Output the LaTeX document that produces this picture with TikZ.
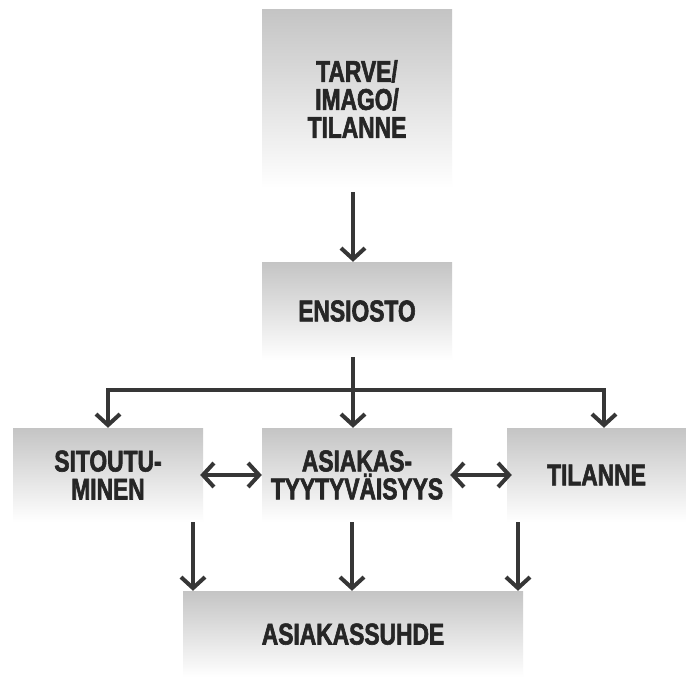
\documentclass[tikz,border=0pt]{standalone}
\usepackage{fontspec}
\newfontfamily\condfont{Liberation Sans Bold}[FakeStretch=0.76, FakeBold=2]
\usetikzlibrary{arrows.meta}
\definecolor{ink}{HTML}{363636}
\definecolor{txt}{HTML}{262626}
\begin{document}
\begin{tikzpicture}[x=1pt,y=-1pt,
  box/.style={rectangle, inner sep=0pt, top color=black!23, bottom color=white,
    draw=none, text=txt, align=center,
    font=\condfont\fontsize{30}{28}\selectfont},
  conn/.style={draw=ink, line width=4pt},
  arr/.style={conn, -{Straight Barb[length=11pt,width=24pt]}},
  darr/.style={conn, {Straight Barb[length=11pt,width=24pt]}-{Straight Barb[length=11pt,width=24pt]}}]
\useasboundingbox (0,0) rectangle (686,677);
\fill[white] (0,0) rectangle (686,677);
% boxes
\node[box, minimum width=190pt, minimum height=178pt] (top) at (357,99) {TARVE/\\IMAGO/\\TILANNE};
\node[box, minimum width=190pt, minimum height=98pt] (ens) at (357,311) {ENSIOSTO};
\node[box, minimum width=190pt, minimum height=94pt] (sit) at (108,475) {SITOUTU-\\MINEN};
\node[box, minimum width=190pt, minimum height=94pt] (asi) at (357,475) {ASIAKAS-\\TYYTYVÄISYYS};
\node[box, minimum width=179pt, minimum height=94pt] (til) at (596.5,475) {TILANNE};
\node[box, minimum width=340pt, minimum height=86pt, text depth=0pt] (suh) at (353,634) {ASIAKASSUHDE};
\coordinate (split) at (353,390);
% connectors
\draw[arr] ([xshift=-4pt,yshift=-4pt]top.south) -- ([xshift=-4pt]ens.north);
\draw[conn] ([xshift=-4pt,yshift=3pt]ens.south) -- (split);
\draw[arr] (split) -| (sit.north);
\draw[arr] (split) -| ([xshift=7.5pt]til.north);
\draw[arr] (split) -- (split |- asi.north);
\draw[darr] ([xshift=-3pt]sit.east) -- (asi.west);
\draw[darr] ([xshift=-2pt]asi.east) -- ([xshift=5pt]til.west);
\draw[arr] ([xshift=85pt]sit.south) -- ([xshift=85pt]sit.south |- suh.north);
\draw[arr] ([xshift=-5pt]asi.south) -- ([xshift=-5pt]asi.south |- suh.north);
\draw[arr] ([xshift=-78.5pt]til.south) -- ([xshift=-78.5pt]til.south |- suh.north);
\end{tikzpicture}
\end{document}
